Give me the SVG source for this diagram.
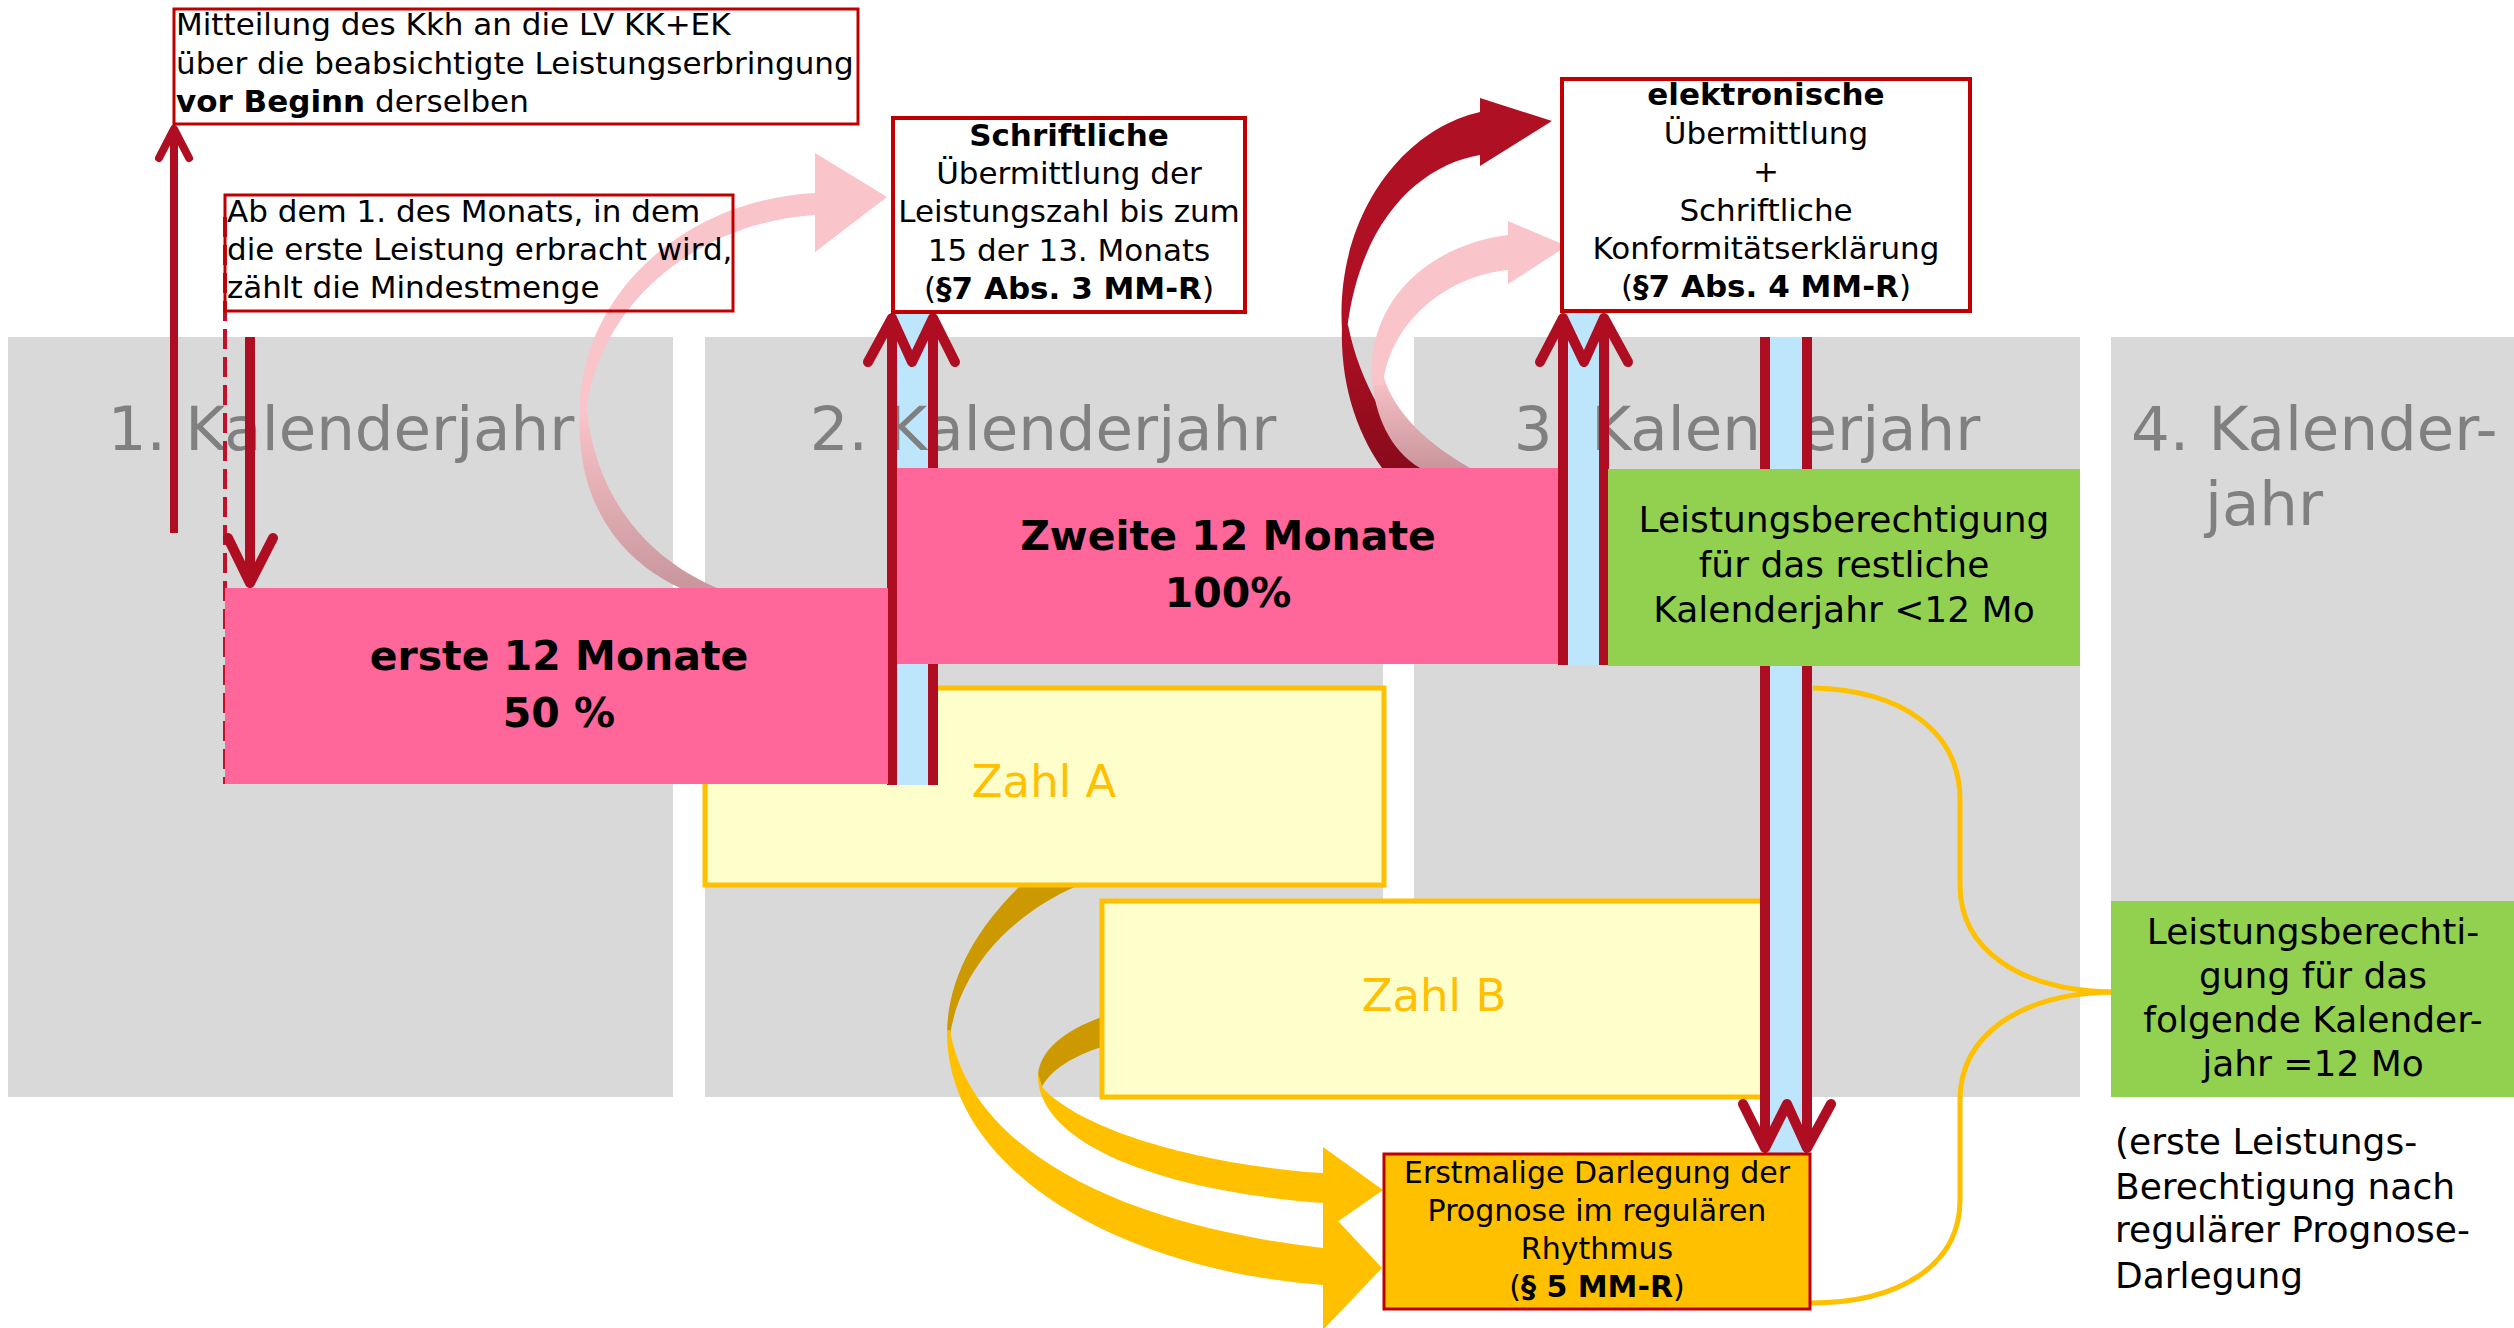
<svg xmlns="http://www.w3.org/2000/svg" width="2514" height="1328" viewBox="0 0 2514 1328">
<style>
text{font-family:"DejaVu Sans","Liberation Sans",sans-serif;fill:#000}
.yr{font-size:61px;fill:#808080;text-anchor:middle}
.t31{font-size:31px}
.t30{font-size:30px}
.t36{font-size:36px}
.mid{text-anchor:middle}
.b{font-weight:bold}
.pk{font-size:41px;font-weight:bold;text-anchor:middle}
.zl{font-size:45px;fill:#FFC000;text-anchor:middle}
.gray{fill:#D9D9D9}
.rbox{fill:#fff;stroke:#C00000;stroke-width:3}
.pink{fill:#FF6699}
.green{fill:#92D050}
.zahl{fill:#FFFFCC;stroke:#FFC000;stroke-width:5}
.blue{fill:#BDE5FB}
.rl{stroke:#AF0D21;stroke-width:10;fill:none}
.chev{stroke:#AF0D21;stroke-width:10;fill:none;stroke-linecap:round;stroke-linejoin:round}
.brace{stroke:#FFC000;stroke-width:5;fill:none}
</style>
<defs>
<linearGradient id="gPink" x1="0" y1="0" x2="0" y2="1"><stop offset="0" stop-color="#F9C4CA"/><stop offset="1" stop-color="#C8969C"/></linearGradient>
<linearGradient id="gRed" x1="0" y1="0" x2="0" y2="1"><stop offset="0" stop-color="#B01024"/><stop offset="1" stop-color="#880B1C"/></linearGradient>
</defs>

<g id="yearcolumns">
<rect class="gray" x="8" y="337" width="665" height="760"/>
<rect class="gray" x="705" y="337" width="678" height="760"/>
<rect class="gray" x="1414" y="337" width="666" height="760"/>
<rect class="gray" x="2111" y="337" width="403" height="760"/>
</g>

<g id="connectors">
<!-- yellow curved arrows -->
<path fill="#CC9A00" d="M1020 886 C975 930 947 980 947 1035 L950 1035 C960 970 1010 915 1077 886 Z"/>
<path fill="#FFC000" d="M947 1030 C945 1170 1120 1270 1323 1285 L1323 1330 L1382 1268 L1323 1205 L1323 1248 C1120 1225 970 1150 950 1030 Z"/>
<path fill="#CC9A00" d="M1102 1017 C1065 1030 1040 1050 1038 1075 L1042 1087 C1050 1070 1075 1055 1102 1047 Z"/>
<path fill="#FFC000" d="M1038 1073 C1035 1140 1150 1190 1323 1203 L1323 1232 L1383 1190 L1323 1147 L1323 1173 C1200 1165 1080 1130 1042 1087 Z"/>
</g>

<g id="zahlA"><rect class="zahl" x="705" y="688" width="679" height="197"/><text class="zl" x="1044" y="797">Zahl A</text></g>
<g id="zahlB"><rect class="zahl" x="1102" y="901" width="670" height="196"/><text class="zl" x="1434" y="1011">Zahl B</text></g>

<g id="upfills">
<rect class="blue" x="892" y="313" width="41" height="472"/>
<rect class="blue" x="1563" y="313" width="41" height="352"/>
</g>

<g id="yearlabels">
<text class="yr" x="341" y="450">1. Kalenderjahr</text>
<text class="yr" x="1043" y="450">2. Kalenderjahr</text>
<text class="yr" x="1747" y="450">3. Kalenderjahr</text>
<text class="yr" x="2131" y="450" style="text-anchor:start">4. Kalender-</text>
<text class="yr" x="2205" y="525" style="text-anchor:start">jahr</text>
</g>

<g id="connectors2">
<!-- down double arrow year 3 -->
<rect class="blue" x="1765" y="337" width="42" height="817"/>
<line class="rl" x1="1765" y1="337" x2="1765" y2="1146"/>
<line class="rl" x1="1807" y1="337" x2="1807" y2="1146"/>
<polyline class="chev" points="1743,1104 1765,1148 1787,1104 1807,1148 1831,1104"/>
<!-- up double arrow year 2 -->
<line class="rl" x1="892" y1="785" x2="892" y2="320"/>
<line class="rl" x1="933" y1="785" x2="933" y2="320"/>
<polyline class="chev" points="868,362 892,318 912,362 933,318 955,362"/>
<!-- left arrows year 1 -->
<line x1="174" y1="533" x2="174" y2="132" style="stroke:#AF0D21;stroke-width:8"/>
<polyline points="159,158 174,129 189,158" style="stroke:#AF0D21;stroke-width:8;fill:none;stroke-linecap:round;stroke-linejoin:round"/>
<line x1="225" y1="217" x2="225" y2="784" style="stroke:#C0102A;stroke-width:4;stroke-dasharray:20 8"/>
<line class="rl" x1="250" y1="337" x2="250" y2="580"/>
<polyline class="chev" points="228,538 250,583 273,538"/>
<!-- curved arrows -->
<path fill="url(#gPink)" d="M580 410 C575 490 610 555 680 588 L717 588 C640 555 595 490 587 410 Z"/>
<path fill="#F9C4CA" d="M580 420 C575 300 680 200 815 193 L815 153 L887 197 L815 252 L815 215 C700 222 600 300 586 412 Z"/>
<path fill="url(#gRed)" d="M1342 325 C1340 380 1355 430 1382 468 L1423 468 C1390 430 1360 385 1348 325 Z"/>
<path fill="#B01024" d="M1342 330 C1335 220 1400 130 1480 112 L1480 98 L1552 121 L1480 166 L1480 155 C1420 165 1360 220 1347 330 Z"/>
<path fill="url(#gPink)" d="M1372 375 C1374 415 1390 450 1420 468 L1470 468 C1430 445 1395 415 1383 375 Z"/>
<path fill="#F9C4CA" d="M1372 385 C1365 300 1430 245 1508 235 L1508 221 L1567 246 L1508 284 L1508 270 C1450 275 1390 320 1383 385 Z"/>
<!-- brace -->
<path class="brace" d="M1813 688 C1900 690 1960 730 1960 800 L1960 885 C1960 950 2020 990 2111 992"/>
<path class="brace" d="M2111 992 C2020 994 1960 1035 1960 1100 L1960 1200 C1960 1265 1900 1303 1810 1303"/>
</g>

<g id="erste12">
<rect class="pink" x="225" y="588" width="663" height="196"/>
<text class="pk" x="559" y="670">erste 12 Monate</text>
<text class="pk" x="559" y="727">50 %</text>
</g>

<g id="zweite12">
<rect class="pink" x="897" y="468" width="661" height="196"/>
<text class="pk" x="1228" y="550">Zweite 12 Monate</text>
<text class="pk" x="1228" y="607">100%</text>
</g>

<g id="up3">
<line class="rl" x1="1563" y1="665" x2="1563" y2="320"/>
<line class="rl" x1="1604" y1="665" x2="1604" y2="320"/>
<polyline class="chev" points="1540,362 1563,318 1584,362 1604,318 1628,362"/>
</g>

<g id="berecht1">
<rect class="green" x="1608" y="469" width="472" height="197"/>
<text class="t36 mid" x="1844" y="532">Leistungsberechtigung</text>
<text class="t36 mid" x="1844" y="577">für das restliche</text>
<text class="t36 mid" x="1844" y="622">Kalenderjahr &lt;12 Mo</text>
</g>

<g id="mitteilung">
<rect class="rbox" x="174" y="9" width="684" height="115"/>
<text class="t31" x="176" y="35">Mitteilung des Kkh an die LV KK+EK</text>
<text class="t31" x="176" y="74">über die beabsichtigte Leistungserbringung</text>
<text class="t31" x="176" y="112"><tspan class="b">vor Beginn</tspan> derselben</text>
</g>

<g id="abdem">
<rect class="rbox" x="225" y="195" width="508" height="116" style="fill:none"/>
<text class="t31" x="227" y="222">Ab dem 1. des Monats, in dem</text>
<text class="t31" x="227" y="260">die erste Leistung erbracht wird,</text>
<text class="t31" x="227" y="298">zählt die Mindestmenge</text>
</g>

<g id="schriftlich">
<rect class="rbox" x="893" y="118" width="352" height="194" style="stroke-width:4"/>
<text class="t31 mid b" x="1069" y="146">Schriftliche</text>
<text class="t31 mid" x="1069" y="184">Übermittlung der</text>
<text class="t31 mid" x="1069" y="222">Leistungszahl bis zum</text>
<text class="t31 mid" x="1069" y="261">15 der 13. Monats</text>
<text class="t31 mid" x="1069" y="299">(<tspan class="b">§7 Abs. 3 MM-R</tspan>)</text>
</g>

<g id="elektronisch">
<rect class="rbox" x="1562" y="79" width="408" height="232" style="stroke-width:4"/>
<text class="t31 mid b" x="1766" y="105">elektronische</text>
<text class="t31 mid" x="1766" y="144">Übermittlung</text>
<text class="t31 mid" x="1766" y="182">+</text>
<text class="t31 mid" x="1766" y="221">Schriftliche</text>
<text class="t31 mid" x="1766" y="259">Konformitätserklärung</text>
<text class="t31 mid" x="1766" y="297">(<tspan class="b">§7 Abs. 4 MM-R</tspan>)</text>
</g>

<g id="erstmalig">
<rect x="1384" y="1154" width="426" height="155" style="fill:#FFC000;stroke:#C00000;stroke-width:3"/>
<text class="t30 mid" x="1597" y="1183">Erstmalige Darlegung der</text>
<text class="t30 mid" x="1597" y="1221">Prognose im regulären</text>
<text class="t30 mid" x="1597" y="1259">Rhythmus</text>
<text class="t30 mid" x="1597" y="1297">(<tspan class="b">§ 5 MM-R</tspan>)</text>
</g>

<g id="berecht2">
<rect class="green" x="2111" y="901" width="403" height="196"/>
<text class="t36 mid" x="2313" y="944">Leistungsberechti-</text>
<text class="t36 mid" x="2313" y="988">gung für das</text>
<text class="t36 mid" x="2313" y="1032">folgende Kalender-</text>
<text class="t36 mid" x="2313" y="1076">jahr =12 Mo</text>
</g>

<g id="hinweis">
<text class="t36" x="2115" y="1154">(erste Leistungs-</text>
<text class="t36" x="2115" y="1199">Berechtigung nach</text>
<text class="t36" x="2115" y="1242">regulärer Prognose-</text>
<text class="t36" x="2115" y="1288">Darlegung</text>
</g>
</svg>
